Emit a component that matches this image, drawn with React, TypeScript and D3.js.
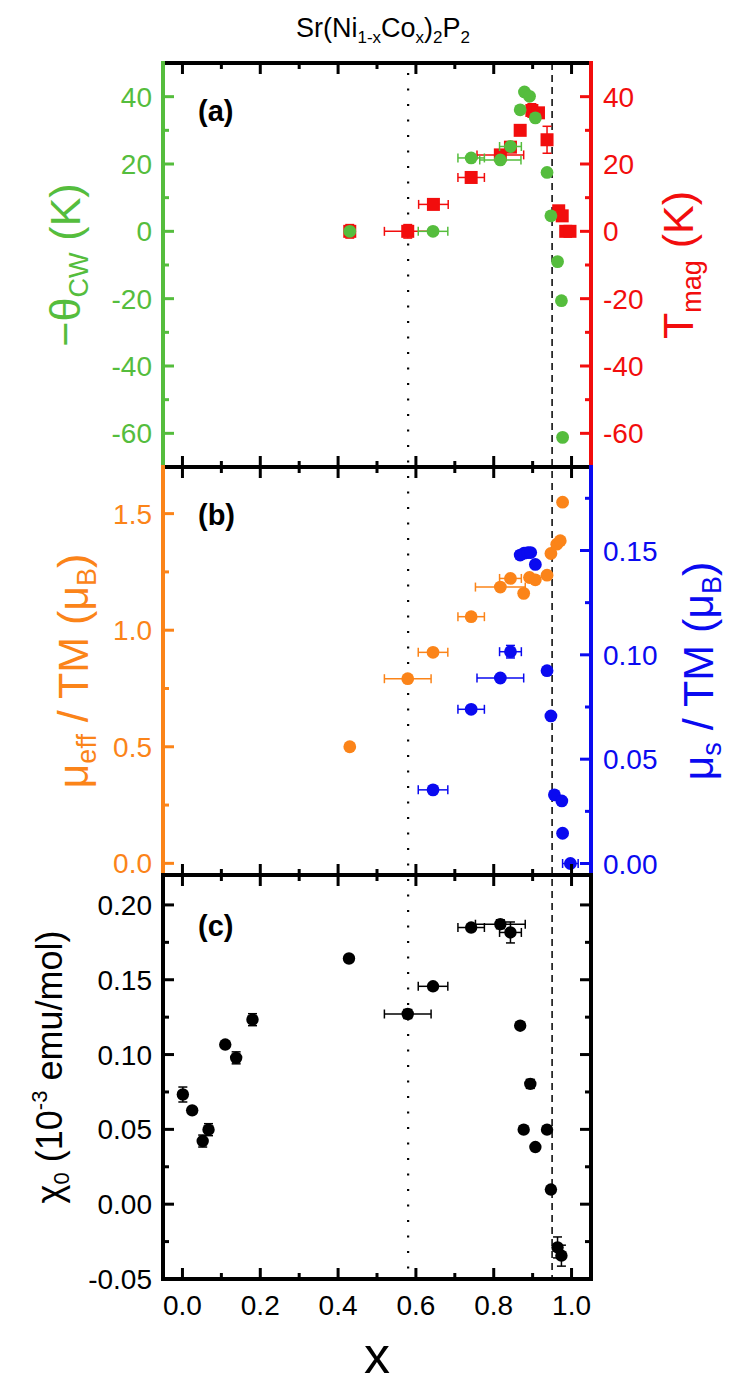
import * as d3 from "d3"

// x axis (Co content)
const xMajor = [0, 0.2, 0.4, 0.6, 0.8, 1.0]
const xMinor = [0.1, 0.3, 0.5, 0.7, 0.9]

// panel (a): -theta_CW (green) and T_mag (red), both in K
const tempMajor = [40, 20, 0, -20, -40, -60]
const tempMinor = [30, 10, -10, -30, -50]

const thetaX = [0.43, 0.644, 0.742, 0.817, 0.843, 0.868, 0.879, 0.892, 0.907, 0.937, 0.947, 0.964, 0.974, 0.977]
const thetaY = [0, 0, 21.8, 21.2, 25.2, 36.1, 41.4, 40.1, 33.7, 17.5, 4.6, -9, -20.6, -61.2]
const thetaXErr = [0, 0.038, 0.034, 0.053, 0.028, 0, 0, 0, 0, 0, 0.006, 0, 0, 0]
const thetaYErr = [0, 0, 0, 0, 0, 0, 0, 0, 0, 0, 0, 0, 0, 0]

const tmagX = [0.43, 0.579, 0.645, 0.742, 0.817, 0.843, 0.868, 0.898, 0.915, 0.937, 0.967, 0.976, 0.985, 0.996]
const tmagY = [0, 0, 8, 16, 22.7, 25, 30, 35.9, 35.2, 27.2, 6.1, 4.6, 0, 0]
const tmagXErr = [0, 0.06, 0.038, 0.034, 0.06, 0, 0, 0.01, 0, 0, 0, 0, 0.006, 0]
const tmagYErr = [2, 2, 0, 0, 0, 0, 0, 2, 0, 4, 0, 0, 0, 0]

// panel (b): mu_eff (orange, left) and mu_s (blue, right)
const muEffMajor = [0, 0.5, 1.0, 1.5]
const muEffMinor = [0.25, 0.75, 1.25]
const muSMajor = [0, 0.05, 0.1, 0.15]
const muSMinor = [0.025, 0.075, 0.125, 0.175]

const muEffX = [0.43, 0.579, 0.644, 0.742, 0.817, 0.843, 0.877, 0.892, 0.907, 0.937, 0.947, 0.962, 0.971, 0.977]
const muEffY = [0.5, 0.792, 0.905, 1.058, 1.185, 1.222, 1.158, 1.226, 1.216, 1.236, 1.329, 1.369, 1.384, 1.549]
const muEffXErr = [0, 0.06, 0.038, 0.034, 0.064, 0.028, 0, 0, 0, 0, 0, 0, 0, 0]

const muSX = [0.644, 0.742, 0.817, 0.843, 0.868, 0.878, 0.888, 0.895, 0.907, 0.937, 0.947, 0.956, 0.975, 0.977, 0.997]
const muSY = [0.0353, 0.0739, 0.0889, 0.1015, 0.1478, 0.1487, 0.149, 0.149, 0.1433, 0.0924, 0.0707, 0.0329, 0.03, 0.0145, 0.0]
const muSXErr = [0.038, 0.034, 0.06, 0.028, 0.01, 0, 0, 0.006, 0, 0, 0.008, 0, 0, 0, 0.02]
const muSYErr = [0, 0, 0, 0.003, 0, 0, 0, 0, 0, 0, 0, 0, 0, 0, 0]

// panel (c): chi_0 (black)
const chiMajor = [-0.05, 0, 0.05, 0.1, 0.15, 0.2]
const chiMinor = [-0.025, 0.025, 0.075, 0.125, 0.175]

const chiX = [0.001, 0.025, 0.052, 0.067, 0.11, 0.138, 0.18, 0.428, 0.579, 0.644, 0.742, 0.817, 0.843, 0.868, 0.877, 0.894, 0.907, 0.937, 0.947, 0.964, 0.974]
const chiY = [0.0733, 0.0627, 0.0422, 0.0498, 0.1067, 0.0978, 0.1233, 0.1642, 0.1271, 0.1456, 0.1849, 0.1871, 0.1816, 0.1193, 0.0498, 0.0804, 0.0382, 0.0498, 0.0098, -0.0289, -0.0344]
const chiXErr = [0, 0, 0, 0, 0, 0, 0, 0, 0.06, 0.038, 0.034, 0.064, 0.028, 0, 0, 0, 0, 0, 0.006, 0, 0]
const chiYErr = [0.005, 0, 0.004, 0.004, 0, 0.004, 0.004, 0, 0.003, 0, 0, 0.003, 0.007, 0, 0, 0.003, 0, 0, 0, 0.007, 0.007]

// reference lines
const dottedAt = 0.58
const dashedAt = 0.95

const FONT = "'Liberation Sans', Arial, Helvetica, sans-serif"
const GREEN = "#55bd3d"
const RED = "#f20d0d"
const ORANGE = "#fb8419"
const BLUE = "#0a0af0"

const W = 729
const H = 1388
const left = 163
const right = 591
const aTop = 63
const aBot = 467
const bBot = 875
const cBot = 1279
const MAJ = 11
const MIN = 6

const x = d3.scaleLinear().domain([-0.05, 1.05]).range([left, right])
const yA = d3.scaleLinear().domain([-70, 50]).range([aBot, aTop])
const yBL = d3.scaleLinear().domain([-0.05, 1.7]).range([bBot, aBot])
const yBR = d3.scaleLinear().domain([-0.0055, 0.19]).range([bBot, aBot])
const yC = d3.scaleLinear().domain([-0.05, 0.22]).range([cBot, bBot])

type Scale = d3.ScaleLinear<number, number>

function YAxis(props: {
  scale: Scale
  major: number[]
  minor: number[]
  side: "left" | "right"
  color: string
  fmt?: (v: number) => string
  top: number
  bottom: number
}) {
  const { scale, major, minor, side, color, fmt, top, bottom } = props
  const x0 = side === "left" ? left : right
  const dir = side === "left" ? 1 : -1
  return (
    <g>
      <line x1={x0} x2={x0} y1={top - 2} y2={bottom + 2} stroke={color} strokeWidth={4} />
      {major.map((v) => (
        <line key={"M" + v} x1={x0} x2={x0 + dir * MAJ} y1={scale(v)} y2={scale(v)} stroke={color} strokeWidth={3} />
      ))}
      {minor.map((v) => (
        <line key={"m" + v} x1={x0} x2={x0 + dir * MIN} y1={scale(v)} y2={scale(v)} stroke={color} strokeWidth={3} />
      ))}
      {fmt &&
        major.map((v) => (
          <text
            key={"t" + v}
            x={side === "left" ? x0 - 11 : x0 + 12}
            y={scale(v)}
            dy="0.36em"
            textAnchor={side === "left" ? "end" : "start"}
            fill={color}
            fontSize={28}
          >
            {fmt(v)}
          </text>
        ))}
    </g>
  )
}

function XAxis({ y0, dir }: { y0: number; dir: number }) {
  return (
    <g>
      <line x1={left - 2} x2={right + 2} y1={y0} y2={y0} stroke="#000" strokeWidth={4} />
      {xMajor.map((v) => (
        <line key={"M" + v} x1={x(v)} x2={x(v)} y1={y0} y2={y0 + dir * MAJ} stroke="#000" strokeWidth={3} />
      ))}
      {xMinor.map((v) => (
        <line key={"m" + v} x1={x(v)} x2={x(v)} y1={y0} y2={y0 + dir * MIN} stroke="#000" strokeWidth={3} />
      ))}
    </g>
  )
}

function Series(props: {
  xs: number[]
  ys: number[]
  xe?: number[]
  ye?: number[]
  y: Scale
  color: string
  square?: boolean
  r?: number
}) {
  const { xs, ys, xe, ye, y, color, square } = props
  const r = props.r ?? 6.4
  const cap = 4.5
  return (
    <g>
      {xs.map((xv, i) => {
        const cx = x(xv)
        const cy = y(ys[i])
        const ex = xe ? xe[i] : 0
        const ey = ye ? ye[i] : 0
        return (
          <g key={"e" + i} stroke={color} strokeWidth={1.5}>
            {ex > 0 && (
              <>
                <line x1={x(xv - ex)} x2={x(xv + ex)} y1={cy} y2={cy} />
                <line x1={x(xv - ex)} x2={x(xv - ex)} y1={cy - cap} y2={cy + cap} />
                <line x1={x(xv + ex)} x2={x(xv + ex)} y1={cy - cap} y2={cy + cap} />
              </>
            )}
            {ey > 0 && (
              <>
                <line x1={cx} x2={cx} y1={y(ys[i] - ey)} y2={y(ys[i] + ey)} />
                <line x1={cx - cap} x2={cx + cap} y1={y(ys[i] - ey)} y2={y(ys[i] - ey)} />
                <line x1={cx - cap} x2={cx + cap} y1={y(ys[i] + ey)} y2={y(ys[i] + ey)} />
              </>
            )}
          </g>
        )
      })}
      {xs.map((xv, i) =>
        square ? (
          <rect key={"p" + i} x={x(xv) - r} y={y(ys[i]) - r} width={2 * r} height={2 * r} fill={color} />
        ) : (
          <circle key={"p" + i} cx={x(xv)} cy={y(ys[i])} r={r} fill={color} />
        )
      )}
    </g>
  )
}

function AxisTitle(props: { x: number; y: number; color: string; size: number; children: React.ReactNode }) {
  return (
    <text
      transform={`translate(${props.x},${props.y}) rotate(-90)`}
      textAnchor="middle"
      fill={props.color}
      fontSize={props.size}
    >
      {props.children}
    </text>
  )
}

const f1 = (v: number) => v.toFixed(1)
const f2 = (v: number) => v.toFixed(2)
const fInt = (v: number) => String(v)

export default function App() {
  const midA = (aTop + aBot) / 2
  const midB = (aBot + bBot) / 2
  const midC = (bBot + cBot) / 2
  return (
    <svg
      width={W}
      height={H}
      style={{ position: "absolute", left: 0, top: 0, background: "#fff" }}
      fontFamily={FONT}
    >
      <rect width={W} height={H} fill="#fff" />

      {/* title */}
      <text x={383} y={37} textAnchor="middle" fontSize={27} fill="#000">
        Sr(Ni
        <tspan fontSize={17} dy={6}>1-x</tspan>
        <tspan dy={-6}>Co</tspan>
        <tspan fontSize={17} dy={6}>x</tspan>
        <tspan dy={-6}>)</tspan>
        <tspan fontSize={17} dy={6}>2</tspan>
        <tspan dy={-6}>P</tspan>
        <tspan fontSize={17} dy={6}>2</tspan>
      </text>

      {/* reference lines */}
      <line x1={x(dottedAt)} x2={x(dottedAt)} y1={aTop + 10} y2={cBot} stroke="#000" strokeWidth={2.2} strokeDasharray="2 13.5" />
      <line x1={x(dashedAt)} x2={x(dashedAt)} y1={aTop} y2={cBot} stroke="#000" strokeWidth={1.5} strokeDasharray="7 5" />

      {/* panel (a) */}
      <Series xs={tmagX} ys={tmagY} xe={tmagXErr} ye={tmagYErr} y={yA} color={RED} square r={6.5} />
      <Series xs={thetaX} ys={thetaY} xe={thetaXErr} ye={thetaYErr} y={yA} color={GREEN} />

      {/* panel (b) */}
      <Series xs={muEffX} ys={muEffY} xe={muEffXErr} y={yBL} color={ORANGE} />
      <Series xs={muSX} ys={muSY} xe={muSXErr} ye={muSYErr} y={yBR} color={BLUE} />

      {/* panel (c) */}
      <Series xs={chiX} ys={chiY} xe={chiXErr} ye={chiYErr} y={yC} color="#000" r={6.2} />

      {/* frames */}
      <XAxis y0={aTop} dir={1} />
      <XAxis y0={aBot} dir={-1} />
      <XAxis y0={aBot} dir={1} />
      <XAxis y0={bBot} dir={-1} />
      <XAxis y0={bBot} dir={1} />
      <XAxis y0={cBot} dir={-1} />

      <YAxis scale={yA} major={tempMajor} minor={tempMinor} side="left" color={GREEN} fmt={fInt} top={aTop} bottom={aBot} />
      <YAxis scale={yA} major={tempMajor} minor={tempMinor} side="right" color={RED} fmt={fInt} top={aTop} bottom={aBot} />
      <YAxis scale={yBL} major={muEffMajor} minor={muEffMinor} side="left" color={ORANGE} fmt={f1} top={aBot} bottom={bBot} />
      <YAxis scale={yBR} major={muSMajor} minor={muSMinor} side="right" color={BLUE} fmt={f2} top={aBot} bottom={bBot} />
      <YAxis scale={yC} major={chiMajor} minor={chiMinor} side="left" color="#000" fmt={f2} top={bBot} bottom={cBot} />
      <YAxis scale={yC} major={chiMajor} minor={chiMinor} side="right" color="#000" top={bBot} bottom={cBot} />

      {/* x tick labels */}
      {xMajor.map((v) => (
        <text key={v} x={x(v)} y={1315} textAnchor="middle" fontSize={28} fill="#000">
          {f1(v)}
        </text>
      ))}
      <text x={377} y={1373} textAnchor="middle" fontSize={52} fill="#000">
        x
      </text>

      {/* panel labels */}
      <text x={198} y={aTop + 58} fontSize={29} fontWeight="bold" fill="#000">(a)</text>
      <text x={198} y={aBot + 58} fontSize={29} fontWeight="bold" fill="#000">(b)</text>
      <text x={198} y={bBot + 61} fontSize={29} fontWeight="bold" fill="#000">(c)</text>

      {/* axis titles */}
      <AxisTitle x={80} y={midA} color={GREEN} size={43}>
        −θ<tspan fontSize={27} dy={8}>CW</tspan>
        <tspan dy={-8}> (K)</tspan>
      </AxisTitle>
      <AxisTitle x={693} y={midA} color={RED} size={43}>
        T<tspan fontSize={27} dy={8}>mag</tspan>
        <tspan dy={-8}> (K)</tspan>
      </AxisTitle>
      <AxisTitle x={88} y={midB} color={ORANGE} size={43}>
        μ<tspan fontSize={27} dy={8}>eff</tspan>
        <tspan dy={-8}> / TM (μ</tspan>
        <tspan fontSize={27} dy={8}>B</tspan>
        <tspan dy={-8}>)</tspan>
      </AxisTitle>
      <AxisTitle x={713} y={midB} color={BLUE} size={43}>
        μ<tspan fontSize={27} dy={8}>s</tspan>
        <tspan dy={-8}> / TM (μ</tspan>
        <tspan fontSize={27} dy={8}>B</tspan>
        <tspan dy={-8}>)</tspan>
      </AxisTitle>
      <AxisTitle x={62} y={midC - 10} color="#000" size={36}>
        χ<tspan fontSize={22} dy={7}>0</tspan>
        <tspan dy={-7}> (10</tspan>
        <tspan fontSize={22} dy={-15}>-3</tspan>
        <tspan dy={15}> emu/mol)</tspan>
      </AxisTitle>
    </svg>
  )
}
